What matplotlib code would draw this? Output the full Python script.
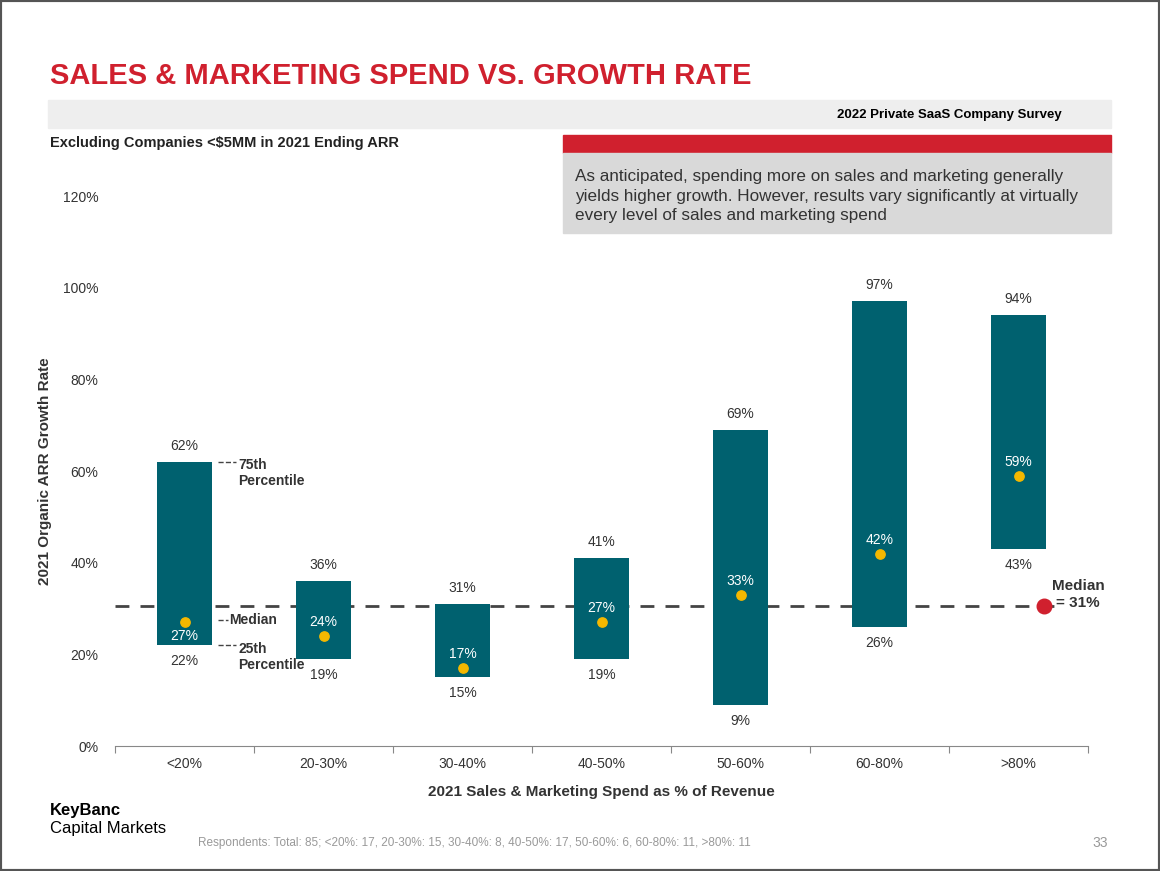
import matplotlib.pyplot as plt
from matplotlib.patches import Rectangle

categories = ['<20%', '20-30%', '30-40%', '40-50%', '50-60%', '60-80%', '>80%']
p75 = [62, 36, 31, 41, 69, 97, 94]
p25 = [22, 19, 15, 19, 9, 26, 43]
median = [27, 24, 17, 27, 33, 42, 59]
overall_median = 30.6

teal = '#00616f'
red = '#d0202e'
gold = '#f5b800'
plt.rcParams['font.family'] = ['Liberation Sans', 'DejaVu Sans']

fig = plt.figure(figsize=(11.6, 8.71), dpi=100)
W, H = 1160, 871

def px(x, y):
    return x / W, 1 - y / H

# header / decorations
fig.patches.append(Rectangle((0, 0), 1, 1, transform=fig.transFigure, fill=False, ec='#555555', lw=3))
fig.text(*px(50, 76), 'SALES & MARKETING SPEND VS. GROWTH RATE', color=red, fontsize=21, fontweight='bold', va='center')
fig.patches.append(Rectangle(px(48, 128), 1063 / W, 28 / H, transform=fig.transFigure, color='#eeeeee'))
fig.text(*px(1062, 115), '2022 Private SaaS Company Survey', fontsize=9.5, fontweight='bold', ha='right', va='center')
fig.text(*px(50, 143), 'Excluding Companies <$5MM in 2021 Ending ARR', fontsize=10.5, fontweight='bold', va='center', color='#222222')
fig.patches.append(Rectangle(px(563, 153), 548 / W, 18 / H, transform=fig.transFigure, color=red))
fig.patches.append(Rectangle(px(563, 233), 548 / W, 80 / H, transform=fig.transFigure, color='#d9d9d9'))
fig.text(*px(575, 196), 'As anticipated, spending more on sales and marketing generally\n'
         'yields higher growth. However, results vary significantly at virtually\n'
         'every level of sales and marketing spend', fontsize=12.3, va='center', color='#333333', linespacing=1.4)
fig.text(*px(50, 810), 'KeyBanc', fontsize=12, fontweight='bold', va='center')
fig.text(*px(50, 828), 'Capital Markets', fontsize=12, va='center')
fig.text(*px(198, 843), 'Respondents: Total: 85; <20%: 17, 20-30%: 15, 30-40%: 8, 40-50%: 17, 50-60%: 6, 60-80%: 11, >80%: 11',
         fontsize=8.5, color='#999999', va='center')
fig.text(*px(1108, 843), '33', fontsize=10, color='#999999', va='center', ha='right')

ax = fig.add_axes([115 / W, 1 - 746 / H, 973 / W, 550 / H])
x = range(len(categories))
ax.bar(x, [h - l for h, l in zip(p75, p25)], bottom=p25, width=0.4, color=teal, zorder=2)
ax.scatter(x, median, color=gold, s=45, zorder=3)
for i in x:
    ax.text(i, p75[i] + 2, f'{p75[i]}%', ha='center', va='bottom', fontsize=10, color='#333333')
    ax.text(i, p25[i] - 2, f'{p25[i]}%', ha='center', va='top', fontsize=10, color='#333333')
    if i == 0:
        ax.text(i, median[i] - 1.5, f'{median[i]}%', ha='center', va='top', fontsize=10, color='white')
    else:
        ax.text(i, median[i] + 1.5, f'{median[i]}%', ha='center', va='bottom', fontsize=10, color='white')

ax.axhline(overall_median, xmax=0.97, color='#444444', ls=(0, (5, 4)), lw=2, zorder=1)
ax.scatter([6.18], [overall_median], color=red, s=110, zorder=4, clip_on=False)
ax.text(6.43, overall_median + 2.5, 'Median\n= 31%', fontsize=11, fontweight='bold', ha='center', va='center',
        color='#333333', linespacing=1.3)

# callouts on first bar
lead = dict(color='#444444', ls='--', lw=1)
ax.plot([0.24, 0.37], [p75[0], p75[0]], **lead)
ax.text(0.385, p75[0] + 0.8, '75th\nPercentile', fontsize=10, fontweight='bold', va='top', color='#333333')
ax.plot([0.24, 0.31], [median[0] + 0.5, median[0] + 0.5], **lead)
ax.text(0.32, median[0] + 0.5, 'Median', fontsize=10, fontweight='bold', va='center', color='#333333')
ax.plot([0.24, 0.37], [p25[0], p25[0]], **lead)
ax.text(0.385, p25[0] + 0.8, '25th\nPercentile', fontsize=10, fontweight='bold', va='top', color='#333333')

ax.set_xlim(-0.5, 6.5)
ax.set_ylim(0, 120)
ax.set_yticks(range(0, 121, 20))
ax.set_yticklabels([f'{v}%' for v in range(0, 121, 20)], fontsize=10, color='#333333')
ax.set_xticks([i - 0.5 for i in range(8)])
ax.set_xticklabels([])
ax.set_xticks(list(x), minor=True)
ax.set_xticklabels(categories, minor=True, fontsize=10, color='#333333')
ax.tick_params(axis='x', which='minor', length=0, pad=8)
ax.tick_params(axis='x', which='major', length=5, color='#888888')
ax.tick_params(axis='y', length=0, pad=12)
for s in ['top', 'right', 'left']:
    ax.spines[s].set_visible(False)
ax.spines['bottom'].set_color('#888888')
ax.set_xlabel('2021 Sales & Marketing Spend as % of Revenue', fontsize=11, fontweight='bold', color='#333333', labelpad=10)
ax.set_ylabel('2021 Organic ARR Growth Rate', fontsize=11, fontweight='bold', color='#333333', labelpad=8)

fig.savefig('out.png', dpi=100)
